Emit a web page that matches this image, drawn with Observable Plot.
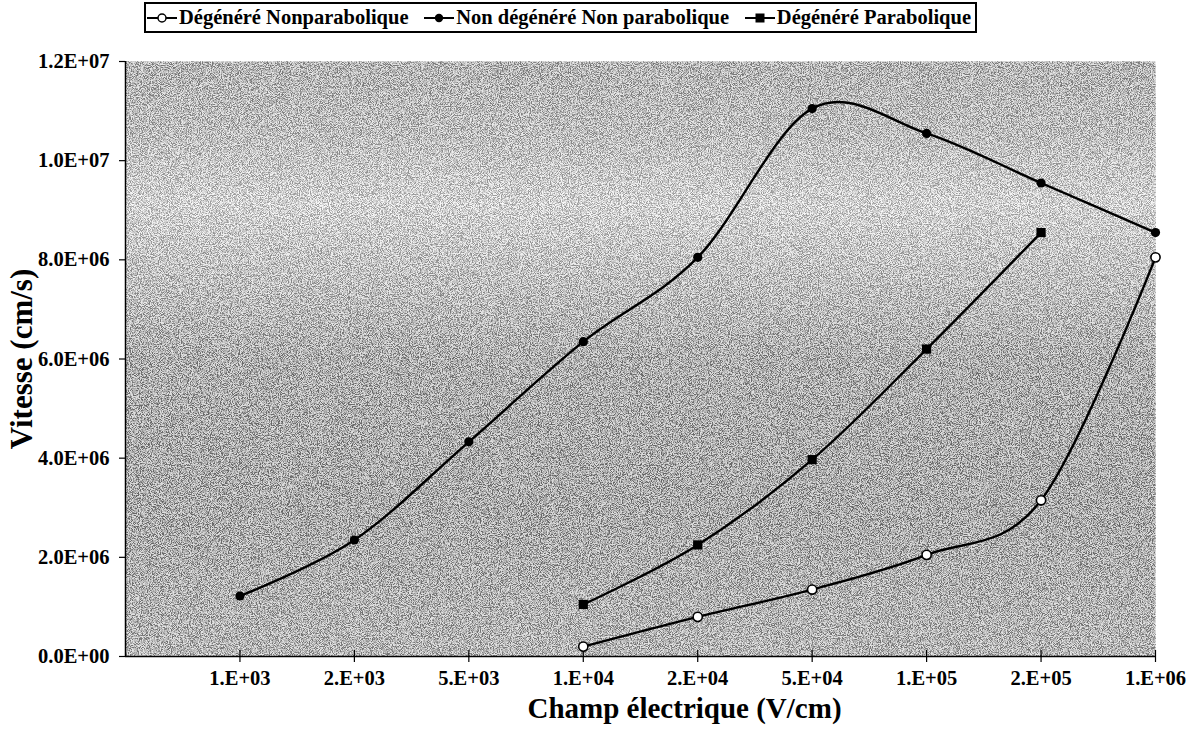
<!DOCTYPE html>
<html>
<head>
<meta charset="utf-8">
<script src="https://cdn.jsdelivr.net/npm/d3@7"></script>
<script src="https://cdn.jsdelivr.net/npm/@observablehq/plot@0.6"></script>
<style>
  html, body { margin: 0; padding: 0; background: white; }
  #wrap { position: relative; width: 1195px; height: 737px; overflow: hidden; }
  #legend { position: relative; height: 36px; width: 1195px; }
  #legend .box {
    position: absolute; left: 144px; top: 2px; width: 833px; height: 31px;
    border: 2px solid black; display: flex; align-items: center;
    justify-content: space-between; padding: 0 4px 0 1px; box-sizing: border-box;
    font-family: "Liberation Serif", serif; font-weight: bold; font-size: 20.5px; color: black;
    white-space: nowrap;
  }
  #legend .item { display: flex; align-items: center; }
  #legend svg { margin-right: 2px; }
  #chart svg { display: block; }
</style>
</head>
<body>
<div id="wrap">
  <div id="legend"><div class="box"></div></div>
  <div id="chart"></div>
</div>
<script>
// ---- data ----
const categories = ["1.E+03", "2.E+03", "5.E+03", "1.E+04", "2.E+04", "5.E+04", "1.E+05", "2.E+05", "1.E+06"];
const seriesNames = ["Dégénéré Nonparabolique", "Non dégénéré Non parabolique", "Dégénéré Parabolique"];
const degNonPara   = [null, null, null, 0.2e6, 0.8e6, 1.35e6, 2.05e6, 3.15e6, 8.05e6];
const nonDegNonPara = [1.22e6, 2.35e6, 4.33e6, 6.35e6, 8.05e6, 1.105e7, 1.055e7, 9.55e6, 8.55e6];
const degPara      = [null, null, null, 1.05e6, 2.25e6, 3.97e6, 6.2e6, 8.55e6, null];
const yTicks = [0, 2e6, 4e6, 6e6, 8e6, 1e7, 1.2e7];
const xTitle = "Champ électrique (V/cm)";
const yTitle = "Vitesse (cm/s)";

// ---- build rows ----
function rows(vals) {
  return vals.map((v, i) => ({i: i + 1, v})).filter(d => d.v != null);
}
const s0 = rows(degNonPara), s1 = rows(nonDegNonPara), s2 = rows(degPara);

function fmtE(d) {
  if (d === 0) return "0.0E+00";
  const e = Math.floor(Math.log10(d) + 1e-9);
  const m = d / Math.pow(10, e);
  return m.toFixed(1) + "E+" + String(e).padStart(2, "0");
}

const lineOpts = {x: "i", y: "v", curve: "cardinal", tension: 0, stroke: "black", strokeWidth: 2.4};

const chart = Plot.plot({
  width: 1195,
  height: 701,
  marginTop: 25,
  marginRight: 40,
  marginBottom: 81,
  marginLeft: 125,
  style: {fontFamily: "'Liberation Serif', serif", fontWeight: "bold", fontSize: "20.5px", color: "black", background: "white", overflow: "visible"},
  x: {type: "linear", domain: [0, 9]},
  y: {domain: [0, 1.2e7]},
  marks: [
    Plot.frame({fill: "url(#bgGrad)"}),
    Plot.axisY({ticks: yTicks, tickFormat: fmtE, tickSize: 6, tickPadding: 10, label: null, strokeWidth: 1.2}),
    Plot.axisX({ticks: d3.range(1, 10), tickFormat: i => categories[i - 1], tickSize: 12, dy: -6, tickPadding: 8, label: null, strokeWidth: 1.2}),
    Plot.ruleX([0], {stroke: "black", strokeWidth: 1.5}),
    Plot.ruleY([0], {stroke: "black", strokeWidth: 1.5}),
    Plot.line(s1, lineOpts),
    Plot.line(s2, lineOpts),
    Plot.line(s0, lineOpts),
    Plot.dot(s1, {x: "i", y: "v", symbol: "circle", r: 4.6, fill: "black"}),
    Plot.dot(s2, {x: "i", y: "v", symbol: "square", r: 5.2, fill: "black"}),
    Plot.dot(s0, {x: "i", y: "v", symbol: "circle", r: 4.6, fill: "white", stroke: "black", strokeWidth: 1.6}),
    Plot.text([xTitle], {frameAnchor: "bottom", text: d => d, textAnchor: "middle", dx: 44, dy: 61, fontSize: 29, fontWeight: "bold"}),
    Plot.text([yTitle], {frameAnchor: "left", text: d => d, textAnchor: "middle", rotate: -90, dx: -103, fontSize: 31, fontWeight: "bold"})
  ]
});

// background gradient + grain
const svg = d3.select(chart);
const defs = svg.insert("defs", ":first-child");
const grad = defs.append("linearGradient").attr("id", "bgGrad").attr("x1", 0).attr("y1", 0).attr("x2", 0).attr("y2", 1);
[[0, "#b8b8b8"], [0.12, "#c0c0c0"], [0.24, "#d2d2d2"], [0.36, "#c3c3c3"], [0.5, "#b2b2b2"], [0.75, "#afafaf"], [1, "#b8b8b8"]]
  .forEach(([o, c]) => grad.append("stop").attr("offset", o).attr("stop-color", c));
const f = defs.append("filter").attr("id", "grain").attr("x", 0).attr("y", 0).attr("width", 1).attr("height", 1);
f.append("feTurbulence").attr("type", "fractalNoise").attr("baseFrequency", 1.1).attr("numOctaves", 2).attr("seed", 11).attr("result", "noise");
f.append("feColorMatrix").attr("in", "noise").attr("type", "matrix")
  .attr("values", "1 0 0 0 0  1 0 0 0 0  1 0 0 0 0  0 0 0 0 1").attr("result", "gray");
const ct = f.append("feComponentTransfer").attr("in", "gray").attr("result", "contrast");
["feFuncR", "feFuncG", "feFuncB"].forEach(n => ct.append(n).attr("type", "linear").attr("slope", 3.5).attr("intercept", -1.25));
f.append("feComposite").attr("in", "SourceGraphic").attr("in2", "contrast").attr("operator", "arithmetic")
  .attr("k1", 0).attr("k2", 1).attr("k3", 0.6).attr("k4", -0.3).attr("result", "mix");
f.append("feComposite").attr("in", "mix").attr("in2", "SourceGraphic").attr("operator", "in");
svg.selectAll('[aria-label="frame"]').attr("filter", "url(#grain)");

document.getElementById("chart").appendChild(chart);

// ---- legend ----
const box = document.querySelector("#legend .box");
const markers = [
  `<circle cx="15" cy="9" r="4" fill="white" stroke="black" stroke-width="1.5"/>`,
  `<circle cx="15" cy="9" r="4.2" fill="black"/>`,
  `<rect x="10.5" y="4.5" width="9" height="9" fill="black"/>`
];
seriesNames.forEach((name, k) => {
  const item = document.createElement("div");
  item.className = "item";
  item.innerHTML = `<svg width="30" height="18"><line x1="0" x2="30" y1="9" y2="9" stroke="black" stroke-width="2"/>${markers[k]}</svg><span>${name}</span>`;
  box.appendChild(item);
});
</script>
</body>
</html>
